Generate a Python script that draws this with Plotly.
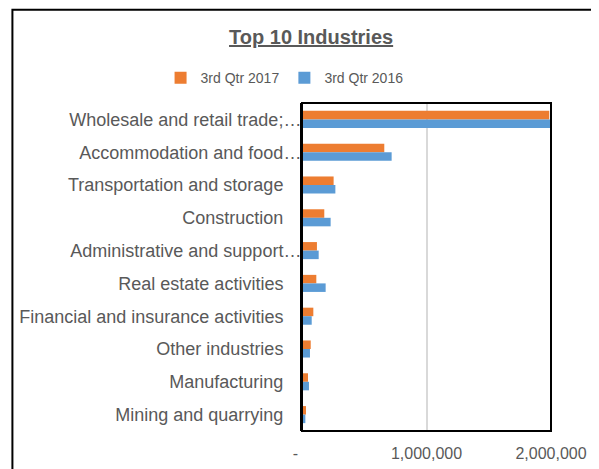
import plotly.graph_objects as go

industries = [
    "Wholesale and retail trade;\u2026",
    "Accommodation and food\u2026",
    "Transportation and storage",
    "Construction",
    "Administrative and support\u2026",
    "Real estate activities",
    "Financial and insurance activities",
    "Other industries",
    "Manufacturing",
    "Mining and quarrying",
]
q3_2017 = [1986000, 661000, 254000, 179000, 120000, 115000, 91000, 70000, 48000, 32000]
q3_2016 = [2014000, 720000, 268000, 230000, 134000, 190000, 78000, 64000, 56000, 27000]
x_ticks = [0, 1000000, 2000000]
x_tick_labels = ["-\u00a0\u00a0\u00a0", "1,000,000", "2,000,000"]

# Excel leaves a gap after untruncated labels; truncated ones touch the axis
tick_text = [s if s.endswith("\u2026") else s + "\u2002\u2002" for s in industries]

ORANGE = "#ED7D31"
BLUE = "#5B9BD5"
GREY = "#595959"
FONT = "Liberation Sans, Arial, sans-serif"

# the page body adds an 8px margin, so everything below is shifted up/left by 8px
fig = go.Figure()
fig.add_trace(go.Bar(y=industries, x=q3_2017, orientation="h", name="3rd Qtr 2017",
                     marker=dict(color=ORANGE, line=dict(width=0))))
fig.add_trace(go.Bar(y=industries, x=q3_2016, orientation="h", name="3rd Qtr 2016",
                     marker=dict(color=BLUE, line=dict(width=0))))

fig.update_layout(
    width=599, height=469,
    margin=dict(l=294, r=56, t=95, b=46),
    paper_bgcolor="white", plot_bgcolor="white",
    barmode="group", bargap=0.48, bargroupgap=0,
    title=dict(text="<b><u>Top 10 Industries</u></b>", xref="container", x=0.506,
               y=1 - 29 / 469, xanchor="center", yanchor="middle",
               font=dict(family=FONT, size=20, color=GREY)),
    legend=dict(orientation="h", x=-0.07, xanchor="center", y=1.076, yanchor="middle",
                font=dict(family=FONT, size=14, color=GREY), traceorder="normal",
                itemwidth=30, bgcolor="rgba(0,0,0,0)"),
    showlegend=True,
    font=dict(family=FONT, color=GREY),
)
fig.update_xaxes(range=[0, 2000000], tickvals=x_ticks, ticktext=x_tick_labels,
                 showgrid=True, gridcolor="#D9D9D9", gridwidth=1.5, zeroline=False,
                 showline=False, ticks="", ticklabelstandoff=11, automargin=False,
                 tickfont=dict(family=FONT, size=16, color=GREY))
fig.update_yaxes(autorange="reversed", tickvals=industries, ticktext=tick_text,
                 showgrid=False, zeroline=False, showline=True, linecolor="black",
                 linewidth=2, ticks="", ticklabelstandoff=-5, automargin=False,
                 tickfont=dict(family=FONT, size=18, color=GREY))

# plot area frame
fig.add_shape(type="rect", xref="paper", yref="paper", x0=0, x1=1, y0=0, y1=1,
              line=dict(color="black", width=2))
# chart area frame (runs off the right and bottom of the picture)
fig.add_shape(type="rect", xref="paper", yref="paper", x0=-1.163, x1=1.3, y0=-0.3, y1=1.284,
              line=dict(color="black", width=2))

fig.write_html("out.html")
